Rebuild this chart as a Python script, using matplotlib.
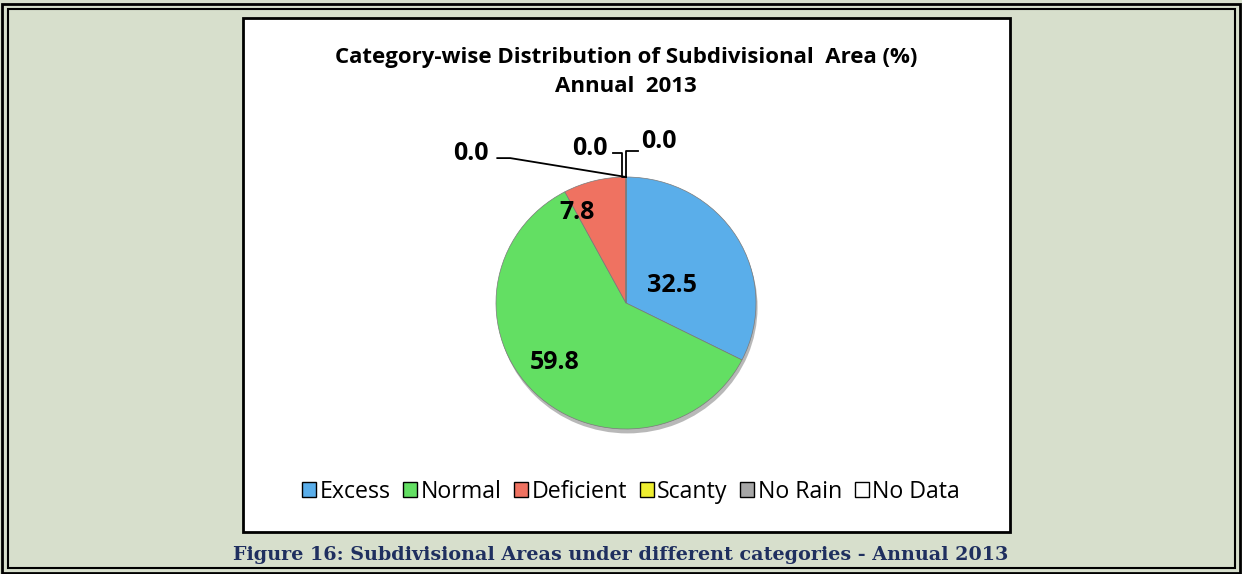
import matplotlib.pyplot as plt
from matplotlib.patches import Rectangle, Patch

W, H = 1242, 574

categories = ['Excess', 'Normal', 'Deficient', 'Scanty', 'No Rain', 'No Data']
values = [32.5, 59.8, 7.8, 0.0, 0.0, 0.0]
colors = ['#5aaeea', '#63df63', '#ef7261', '#eeee30', '#a6a6a6', '#ffffff']
title = 'Category-wise Distribution of Subdivisional  Area (%)\nAnnual  2013'
caption = 'Figure 16: Subdivisional Areas under different categories - Annual 2013'

plt.rcParams['font.family'] = ['Open Sans', 'DejaVu Sans']

fig = plt.figure(figsize=(W / 100, H / 100), dpi=100)
fig.patch.set_facecolor('#d7dfcc')


def box(x0, y0, x1, y1, **kw):
    # pixel coords (top-left origin) -> figure rectangle
    r = Rectangle((x0 / W, 1 - y1 / H), (x1 - x0) / W, (y1 - y0) / H,
                  transform=fig.transFigure, zorder=-5, **kw)
    fig.add_artist(r)


# double frame
box(2, 4, 1240, 573, fill=False, edgecolor='black', linewidth=2)
box(8, 9, 1235, 568, fill=False, edgecolor='black', linewidth=1.5)
# white chart area
box(243, 18, 1010, 532, facecolor='white', edgecolor='black', linewidth=2)

fig.text(626 / W, 1 - 72 / H, title, ha='center', va='center', fontsize=16,
         fontweight='bold', linespacing=1.5)

# pie axes, centred on the pie (slightly squashed like the original 3-D pie)
RX, RY = 130, 126
cx, cy = 626, 303
L = 1.45
ax = fig.add_axes([(cx - RX * L) / W, 1 - (cy + RY * L) / H, 2 * RX * L / W, 2 * RY * L / H])

# soft shadow
ax.pie([1], radius=1.0, center=(0.012, -0.035), colors=['#8a8a8a'],
       wedgeprops=dict(linewidth=0, alpha=0.6))
wedges, _ = ax.pie(values, colors=colors, startangle=90, counterclock=False,
                   wedgeprops=dict(edgecolor='#7a7a7a', linewidth=0.5))
ax.set_aspect('auto')
ax.set_xlim(-L, L)
ax.set_ylim(-L, L)
ax.axis('off')

lab_kw = dict(ha='center', va='center', fontsize=18, fontweight='bold')
# labels on the visible slices
pos = {0: (0.35, 0.14), 1: (-0.55, -0.47), 2: (-0.38, 0.72)}
for i, (px, py) in pos.items():
    ax.text(px, py, f'{values[i]:.1f}', **lab_kw)

# zero-value labels with leader lines
ax.text(-1.19, 1.19, f'{values[3]:.1f}', **lab_kw)
ax.plot([-0.99, -0.89, 0.0], [1.15, 1.15, 1.0], color='black', lw=1.3)
ax.text(-0.28, 1.23, f'{values[4]:.1f}', **lab_kw)
ax.plot([-0.10, -0.03, -0.03, 0.0], [1.19, 1.19, 1.0, 1.0], color='black', lw=1.3)
ax.text(0.25, 1.28, f'{values[5]:.1f}', **lab_kw)
ax.plot([0.09, 0.0, 0.0], [1.21, 1.21, 1.0], color='black', lw=1.3)

handles = [Patch(facecolor=c, edgecolor='black', linewidth=1.0) for c in colors]
fig.legend(handles, categories, loc='center', bbox_to_anchor=(631 / W, 1 - 492 / H),
           ncol=6, frameon=False, fontsize=16.7, handlelength=0.6, handleheight=0.6,
           handletextpad=0.15, columnspacing=0.55)

fig.text(621 / W, 1 - 555 / H, caption, ha='center', va='center', fontsize=13.8,
         fontweight='bold', color='#1f2f5f', family='DejaVu Serif')

fig.savefig('out.png', dpi=100, facecolor=fig.get_facecolor())
